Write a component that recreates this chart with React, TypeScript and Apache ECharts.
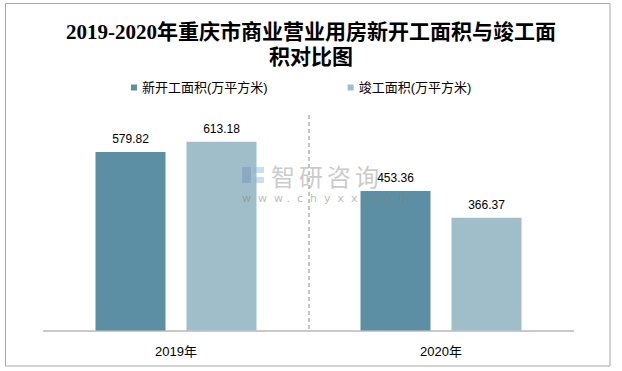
import React, { useEffect, useRef } from "react";
import * as echarts from "echarts";

const categories = ["2019年", "2020年"];
const seriesNames = ["新开工面积(万平方米)", "竣工面积(万平方米)"];
const newStartValues = [579.82, 453.36];
const completedValues = [613.18, 366.37];
const titleText = "2019-2020年重庆市商业营业用房新开工面积与竣工面\n积对比图";
const watermarkChars = ["智", "研", "咨", "询"];

const SANS = "'Liberation Sans', 'Noto Sans CJK SC', sans-serif";

export default function App() {
  const ref = useRef<HTMLDivElement>(null);
  useEffect(() => {
    if (!ref.current) return;
    const chart = echarts.init(ref.current, undefined, { renderer: "svg" });
    const wmChars = watermarkChars.map((c, i) => ({
      type: "text",
      x: 271 + i * 28,
      y: 163,
      z: 100,
      style: {
        text: c,
        font: "24px 'Noto Sans CJK SC', sans-serif",
        fill: "rgba(150,150,150,0.5)",
      },
    }));
    chart.setOption({
      animation: false,
      backgroundColor: "#ffffff",
      title: {
        text: titleText,
        left: "center",
        top: 14,
        textStyle: {
          fontFamily: "'Liberation Serif', 'Noto Sans CJK SC', serif",
          fontWeight: "bold",
          fontSize: 21,
          lineHeight: 25,
          color: "#000000",
        },
      },
      legend: {
        left: 126,
        top: 76,
        itemWidth: 6,
        itemHeight: 6,
        itemGap: 80,
        icon: "rect",
        textStyle: { fontFamily: SANS, fontSize: 13, color: "#000000", padding: [0, 0, 0, 0] },
        data: seriesNames,
      },
      grid: { left: 43.5, right: 48.5, top: 115, bottom: 40.5, containLabel: false },
      xAxis: {
        type: "category",
        data: categories,
        axisLine: { show: true, lineStyle: { color: "#b8b8b8", width: 1.5 } },
        axisTick: { show: false },
        axisLabel: { fontFamily: SANS, fontSize: 13, color: "#000000", margin: 14 },
        splitLine: {
          show: true,
          showMinLine: false,
          showMaxLine: false,
          lineStyle: { color: "#b4b4b4", width: 1.5, type: [4, 3] },
        },
      },
      yAxis: {
        type: "value",
        min: 0,
        max: 700,
        show: false,
        splitLine: { show: false },
      },
      series: [
        {
          name: seriesNames[0],
          type: "bar",
          data: newStartValues,
          barWidth: 70,
          barGap: "30%",
          itemStyle: { color: "#5c8fa4" },
          label: {
            show: true,
            position: "top",
            distance: 7,
            fontFamily: SANS,
            fontSize: 12,
            color: "#000000",
          },
        },
        {
          name: seriesNames[1],
          type: "bar",
          data: completedValues,
          barWidth: 70,
          barGap: "30%",
          itemStyle: { color: "#a0bdca" },
          label: {
            show: true,
            position: "top",
            distance: 7,
            fontFamily: SANS,
            fontSize: 12,
            color: "#000000",
          },
        },
      ],
      graphic: [
        {
          type: "rect",
          shape: { x: 5.5, y: 3.5, width: 604.5, height: 362.5 },
          style: { fill: "none", stroke: "#a8a8a8", lineWidth: 1 },
          silent: true,
        },
        { type: "rect", z: 100, silent: true, shape: { x: 242, y: 167, width: 9, height: 16 }, style: { fill: "rgba(110,145,185,0.45)" } },
        { type: "rect", z: 100, silent: true, shape: { x: 253, y: 167, width: 11, height: 6 }, style: { fill: "rgba(130,185,225,0.45)" } },
        { type: "rect", z: 100, silent: true, shape: { x: 253, y: 177, width: 11, height: 6 }, style: { fill: "rgba(130,185,225,0.45)" } },
        ...wmChars,
        {
          type: "text",
          x: 242,
          y: 193,
          z: 100,
          silent: true,
          style: {
            text: "w  w  w .  c  h  y  x  x .  c  o  m",
            font: "11px 'DejaVu Sans', sans-serif",
            fill: "rgba(130,130,130,0.55)",
          },
        },
      ],
    });
    return () => chart.dispose();
  }, []);
  return (
    <div
      ref={ref}
      style={{ position: "fixed", left: 0, top: 0, width: 622, height: 371 }}
    />
  );
}
